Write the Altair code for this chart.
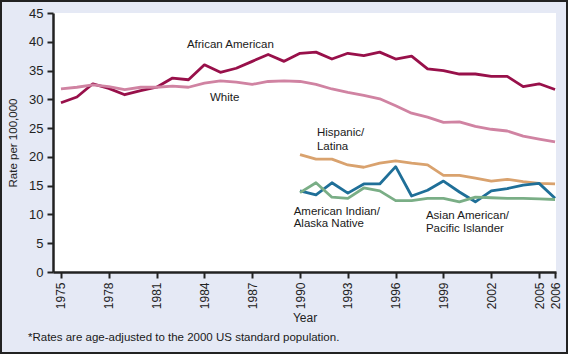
import altair as alt
import pandas as pd

years_all = list(range(1975, 2007))
years_90 = list(range(1990, 2007))

african_american = [29.4, 30.4, 32.7, 31.9, 30.8, 31.5, 32.1, 33.7, 33.4, 36.0,
                    34.7, 35.4, 36.6, 37.8, 36.6, 38.0, 38.2, 37.0, 38.0, 37.6,
                    38.2, 37.0, 37.5, 35.3, 35.0, 34.4, 34.4, 34.0, 34.0, 32.2,
                    32.7, 31.7]
white = [31.8, 32.1, 32.5, 32.2, 31.7, 32.1, 32.1, 32.3, 32.1, 32.8,
         33.2, 33.0, 32.6, 33.1, 33.2, 33.1, 32.6, 31.8, 31.2, 30.7,
         30.1, 28.9, 27.6, 26.9, 26.0, 26.1, 25.3, 24.8, 24.5, 23.6,
         23.1, 22.6]
hispanic = [20.4, 19.6, 19.6, 18.6, 18.2, 18.9, 19.3, 18.9, 18.6, 16.8,
            16.8, 16.3, 15.8, 16.1, 15.7, 15.4, 15.3]
asian_pi = [14.1, 13.4, 15.5, 13.7, 15.3, 15.3, 18.3, 13.2, 14.2, 15.8,
            13.9, 12.2, 14.1, 14.5, 15.1, 15.4, 12.8]
am_indian = [13.8, 15.5, 13.0, 12.8, 14.6, 14.1, 12.4, 12.4, 12.8, 12.8,
             12.2, 13.0, 12.9, 12.8, 12.8, 12.7, 12.6]

series_names = ["African American", "White", "Hispanic/Latina",
                "Asian American/Pacific Islander", "American Indian/Alaska Native"]
series_colors = ["#98104a", "#d083a2", "#d9a26e", "#1f6f98", "#7aae86"]

x_tick_values = [1975, 1978, 1981, 1984, 1987, 1990, 1993, 1996, 1999, 2002, 2005, 2006]
y_tick_values = [0, 5, 10, 15, 20, 25, 30, 35, 40, 45]

# annotation labels (anchored in data units)
label_text = ["African American", "White", "Hispanic/", "Latina",
              "American Indian/", "Alaska Native",
              "Asian American/", "Pacific Islander"]
label_year = [1982.9, 1984.35, 1991.06, 1991.06, 1989.6, 1989.6, 1997.9, 1997.9]
label_value = [39.5, 30.3, 24.2, 21.7, 10.4, 8.3, 9.7, 7.5]

rows = []
for name, yrs, vals in [
    (series_names[0], years_all, african_american),
    (series_names[1], years_all, white),
    (series_names[2], years_90, hispanic),
    (series_names[3], years_90, asian_pi),
    (series_names[4], years_90, am_indian),
]:
    for y, v in zip(yrs, vals):
        rows.append({"Year": y, "Rate": v, "Group": name})
df = pd.DataFrame(rows)
labels_df = pd.DataFrame({"Year": label_year, "Rate": label_value, "text": label_text})

FONT = "Liberation Sans"

x_scale = alt.Scale(domain=[1974.5, 2006.06], nice=False, zero=False)
y_scale = alt.Scale(domain=[0, 45], nice=False)

x_axis = alt.Axis(values=x_tick_values, format="d", labelAngle=270,
                  title="Year", titleFontWeight="normal", titleFontSize=12,
                  titleFont=FONT, titlePadding=4, titleX=251.5,
                  labelFont=FONT, labelFontSize=12, labelPadding=4,
                  tickSize=6, tickWidth=2, domainWidth=2.5,
                  domainColor="#222", tickColor="#222", labelColor="#222",
                  titleColor="#222", grid=False, labelFlush=False,
                  labelOverlap=False)
y_axis = alt.Axis(values=y_tick_values, format="d", title="Rate per 100,000",
                  titleFontWeight="normal", titleFontSize=11.5, titleFont=FONT,
                  titlePadding=10, labelFont=FONT, labelFontSize=13,
                  labelPadding=4, tickSize=6, tickWidth=2, domainWidth=2.5,
                  domainColor="#222", tickColor="#222", labelColor="#222",
                  titleColor="#222", grid=False, labelOverlap=False,
                  labelFlush=False)

lines = alt.Chart(df).mark_line(strokeWidth=2.8, strokeJoin="round").encode(
    x=alt.X("Year:Q", scale=x_scale, axis=x_axis),
    y=alt.Y("Rate:Q", scale=y_scale, axis=y_axis),
    color=alt.Color("Group:N", scale=alt.Scale(domain=series_names, range=series_colors),
                    legend=None),
    detail="Group:N",
)

texts = alt.Chart(labels_df).mark_text(
    align="left", baseline="middle", font=FONT, fontSize=11.5, color="#1a1a1a"
).encode(
    x=alt.X("Year:Q", scale=x_scale, axis=x_axis),
    y=alt.Y("Rate:Q", scale=y_scale, axis=y_axis),
    text="text:N",
)

footnote = alt.Chart(pd.DataFrame({"t": ["*Rates are age-adjusted to the 2000 US standard population."]})).mark_text(
    align="left", baseline="middle", font=FONT, fontSize=11.5, color="#1a1a1a"
).encode(
    x=alt.value(-25), y=alt.value(325), text="t:N"
)

frame = alt.Chart(pd.DataFrame({"a": [0]})).mark_rect(
    filled=False, stroke="#222", strokeWidth=2
).encode(
    x=alt.value(-52), x2=alt.value(514), y=alt.value(-12), y2=alt.value(340)
)

chart = alt.layer(lines, texts, footnote, frame).properties(
    width=503, height=259,
    padding={"left": 53, "top": 13, "right": 12, "bottom": 82},
    autosize=alt.AutoSizeParams(type="none"),
    background="#e5e9f5",
).configure_view(fill="white", stroke=None)

chart.save("out.html", embed_options={"renderer": "svg", "actions": False})
